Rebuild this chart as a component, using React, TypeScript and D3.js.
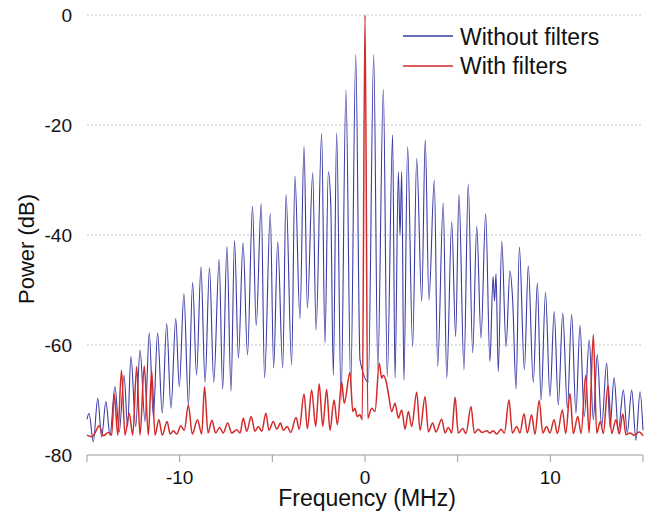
import React from "react";
import * as d3 from "d3";

// Frequency (MHz), Power (dB)
const withoutFilters: [number, number][] = [
  [-15.0, -73.5], [-14.89, -72.4], [-14.66, -77.6], [-14.42, -69.7], [-14.21, -76.7], [-13.98, -70.3],
  [-13.76, -76.4], [-13.49, -67.6], [-13.26, -75.8], [-13.0, -65.5], [-12.81, -74.8], [-12.63, -62.1],
  [-12.37, -74.8], [-12.14, -60.9], [-11.87, -73.9], [-11.64, -57.8], [-11.42, -73.0], [-11.19, -57.8],
  [-10.94, -72.4], [-10.7, -56.1], [-10.47, -71.5], [-10.21, -55.2], [-10.02, -67.6], [-9.77, -50.7],
  [-9.53, -70.9], [-9.3, -48.6], [-9.09, -65.5], [-8.85, -45.8], [-8.63, -66.8], [-8.39, -45.9],
  [-8.16, -66.8], [-7.87, -44.4], [-7.68, -68.0], [-7.45, -42.1], [-7.23, -68.4], [-7.04, -41.0],
  [-6.83, -62.4], [-6.58, -41.4], [-6.34, -61.8], [-6.07, -34.8], [-5.87, -56.5], [-5.6, -34.3],
  [-5.42, -66.0], [-5.11, -36.1], [-4.93, -64.2], [-4.71, -41.2], [-4.44, -64.2], [-4.26, -32.6],
  [-3.96, -63.6], [-3.78, -29.3], [-3.51, -55.2], [-3.29, -23.9], [-3.11, -53.3], [-2.82, -28.7],
  [-2.64, -57.3], [-2.34, -21.5], [-2.16, -59.7], [-1.98, -28.5], [-1.85, -34.0], [-1.71, -65.5],
  [-1.53, -21.4], [-1.29, -70.0], [-1.03, -13.6], [-0.77, -67.6], [-0.5, -7.2], [-0.27, -62.7],
  [0.18, -66.7], [0.47, -7.2], [0.69, -64.5], [0.99, -13.5], [1.2, -65.8], [1.49, -21.8],
  [1.62, -66.0], [1.8, -28.5], [1.89, -40.0], [1.98, -28.5], [2.1, -66.4], [2.3, -23.9],
  [2.57, -60.3], [2.79, -26.1], [3.06, -52.1], [3.25, -22.7], [3.45, -51.8], [3.74, -30.0],
  [3.92, -63.9], [4.22, -34.2], [4.41, -66.0], [4.68, -37.6], [4.89, -58.5], [5.07, -32.6],
  [5.34, -64.5], [5.57, -30.8], [5.81, -61.4], [6.03, -38.4], [6.26, -58.8], [6.51, -36.1],
  [6.74, -63.0], [6.91, -47.5], [6.99, -52.0], [7.07, -47.0], [7.19, -64.8], [7.38, -41.1],
  [7.61, -60.3], [7.82, -46.5], [7.97, -52.0], [8.15, -68.0], [8.33, -42.2], [8.6, -64.5],
  [8.81, -45.6], [9.08, -66.8], [9.3, -48.7], [9.5, -70.0], [9.74, -50.4], [9.98, -69.4],
  [10.21, -53.9], [10.43, -70.9], [10.67, -54.2], [10.92, -71.5], [11.15, -54.4], [11.38, -72.4],
  [11.6, -56.4], [11.83, -73.0], [12.1, -59.1], [12.32, -73.6], [12.53, -61.8], [12.77, -74.8],
  [13.04, -63.3], [13.22, -75.0], [13.44, -65.9], [13.67, -75.5], [13.94, -68.2], [14.15, -76.0],
  [14.39, -68.2], [14.62, -77.3], [14.84, -68.5], [15.0, -75.5],
];

const withFilters: [number, number][] = [
  [-15.0, -76.4], [-14.75, -76.7], [-14.57, -76.0], [-14.34, -74.7], [-14.12, -76.5], [-13.85, -75.9],
  [-13.67, -76.4], [-13.53, -68.9], [-13.34, -76.4], [-13.14, -64.6], [-12.95, -76.4], [-12.72, -72.4],
  [-12.53, -76.4], [-12.32, -63.9], [-12.14, -76.4], [-11.91, -63.8], [-11.69, -76.4], [-11.51, -64.7],
  [-11.33, -76.4], [-11.12, -73.6], [-10.94, -76.4], [-10.68, -73.9], [-10.51, -76.2], [-10.34, -75.6],
  [-10.16, -76.2], [-9.94, -74.7], [-9.75, -75.5], [-9.53, -70.9], [-9.32, -76.2], [-9.04, -73.6],
  [-8.81, -76.2], [-8.66, -67.6], [-8.47, -76.0], [-8.26, -73.7], [-8.06, -76.0], [-7.84, -75.0],
  [-7.65, -76.0], [-7.41, -74.2], [-7.19, -76.0], [-6.92, -75.4], [-6.74, -76.0], [-6.57, -73.3],
  [-6.38, -75.7], [-6.14, -73.0], [-5.94, -75.7], [-5.76, -74.8], [-5.57, -75.7], [-5.35, -72.4],
  [-5.18, -75.5], [-4.95, -73.9], [-4.76, -75.3], [-4.56, -74.2], [-4.41, -75.5], [-4.19, -74.8],
  [-4.01, -75.9], [-3.72, -73.2], [-3.55, -75.3], [-3.29, -68.9], [-3.11, -75.2], [-2.88, -68.2],
  [-2.66, -74.8], [-2.47, -67.1], [-2.28, -74.8], [-2.07, -68.1], [-1.89, -75.5], [-1.67, -70.0],
  [-1.49, -74.5], [-1.26, -66.7], [-1.12, -70.6], [-0.81, -65.0], [-0.66, -72.1], [-0.54, -71.5],
  [-0.42, -73.0], [-0.27, -72.7], [-0.15, -73.6], [0.0, 0.0], [0.15, -73.3], [0.36, -71.5],
  [0.54, -72.1], [0.77, -63.3], [0.9, -66.0], [0.99, -65.5], [1.13, -66.5], [1.27, -69.0],
  [1.44, -72.1], [1.62, -70.6], [1.8, -73.3], [1.98, -71.8], [2.16, -75.3], [2.34, -72.1],
  [2.52, -74.8], [2.79, -68.6], [2.97, -75.5], [3.24, -69.4], [3.42, -75.8], [3.65, -74.2],
  [3.83, -75.8], [4.14, -73.5], [4.32, -76.0], [4.49, -75.0], [4.68, -76.0], [4.86, -69.5],
  [5.03, -76.0], [5.27, -75.2], [5.45, -76.1], [5.72, -71.2], [5.9, -76.0], [6.11, -75.3],
  [6.31, -75.9], [6.57, -75.6], [6.74, -76.0], [6.92, -75.6], [7.11, -76.2], [7.34, -75.3],
  [7.52, -76.0], [7.77, -70.0], [7.95, -76.0], [8.19, -74.8], [8.36, -76.0], [8.58, -72.5],
  [8.76, -76.0], [8.99, -72.7], [9.17, -76.2], [9.4, -70.1], [9.59, -76.0], [9.8, -74.8],
  [9.98, -76.0], [10.2, -73.6], [10.38, -76.1], [10.65, -71.8], [10.83, -76.1], [11.06, -68.8],
  [11.24, -76.1], [11.48, -73.0], [11.66, -76.1], [11.91, -65.5], [12.09, -76.0], [12.32, -58.1],
  [12.5, -76.0], [12.7, -73.9], [12.86, -76.1], [13.11, -67.3], [13.31, -76.1], [13.54, -73.6],
  [13.72, -76.2], [13.91, -72.5], [14.08, -76.3], [14.3, -76.0], [14.52, -76.4], [14.8, -75.8],
  [15.0, -76.5],
];

const xTicks = [-15, -10, -5, 0, 5, 10, 15];
const xTickLabels = [-10, 0, 10];
const yTicks = [0, -20, -40, -60, -80];
const gridValues = [0, -20, -40, -60];

const seriesNames = ["Without filters", "With filters"];
const seriesColors = ["#3b3ba6", "#d32a2a"];

const W = 654;
const H = 517;
const FONT = "'Liberation Sans', Arial, Helvetica, sans-serif";

export default function App() {
  const x = d3.scaleLinear().domain([-15, 15]).range([87, 643]);
  const y = d3.scaleLinear().domain([-80, 0]).range([455, 15]);

  const line = d3
    .line<[number, number]>()
    .x((d) => x(d[0]))
    .y((d) => y(d[1]))
    .curve(d3.curveMonotoneX);

  return (
    <svg
      width={W}
      height={H}
      style={{ position: "absolute", left: 0, top: 0, background: "#fff" }}
      fontFamily={FONT}
    >
      <rect width={W} height={H} fill="#fff" />
      {/* gridlines */}
      {gridValues.map((v) => (
        <line
          key={v}
          x1={x(-15)}
          x2={x(15)}
          y1={y(v)}
          y2={y(v)}
          stroke="#c4c4c4"
          strokeWidth={1}
          strokeDasharray="2,2"
        />
      ))}
      {/* x axis */}
      <line x1={x(-15)} x2={x(15)} y1={y(-80)} y2={y(-80)} stroke="#9a9a9a" strokeWidth={1} />
      {xTicks.map((t) => (
        <line key={t} x1={x(t)} x2={x(t)} y1={y(-80)} y2={y(-80) + 7} stroke="#9a9a9a" strokeWidth={1} />
      ))}
      {xTickLabels.map((t) => (
        <text key={t} x={x(t)} y={484} textAnchor="middle" fontSize={19} fill="#111">
          {t}
        </text>
      ))}
      {yTicks.map((t) => (
        <text key={t} x={72} y={y(t) + 7} textAnchor="end" fontSize={19} fill="#111">
          {t}
        </text>
      ))}
      <text x={367} y={506} textAnchor="middle" fontSize={23} fill="#111">
        Frequency (MHz)
      </text>
      <text transform="translate(34,249) rotate(-90)" textAnchor="middle" fontSize={22} fill="#111">
        Power (dB)
      </text>

      {/* series */}
      <path d={line(withoutFilters) || ""} fill="none" stroke={seriesColors[0]} strokeWidth={1.1} />
      <path d={line(withFilters) || ""} fill="none" stroke={seriesColors[1]} strokeWidth={1.5} />

      {/* legend */}
      {seriesNames.map((name, i) => (
        <g key={name}>
          <line x1={403} x2={453} y1={36 + i * 30} y2={36 + i * 30} stroke={seriesColors[i]} strokeWidth={1.5} />
          <text x={460} y={45 + i * 29} fontSize={23} fill="#111">
            {name}
          </text>
        </g>
      ))}
    </svg>
  );
}
